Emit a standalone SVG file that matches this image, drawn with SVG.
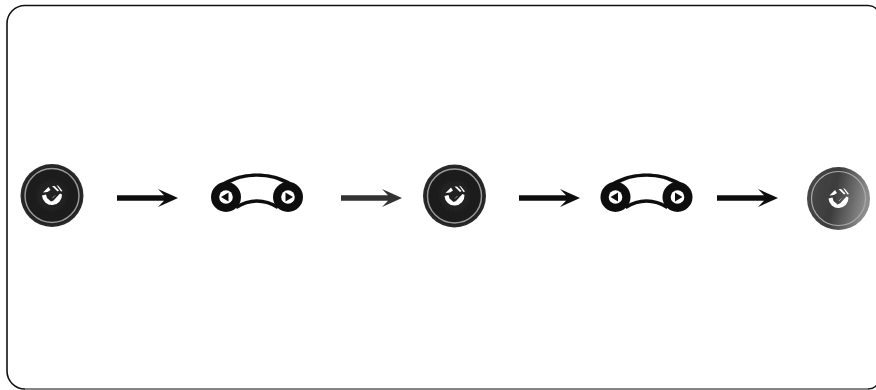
<svg xmlns="http://www.w3.org/2000/svg" width="876" height="390" viewBox="0 0 876 390">
<defs>
<filter id="soft" x="-10%" y="-20%" width="120%" height="140%"><feGaussianBlur stdDeviation="0.45"/></filter>
<radialGradient id="dark" cx="0.5" cy="0.5" r="0.5"><stop offset="0" stop-color="#242424"/><stop offset="0.85" stop-color="#1c1c1c"/><stop offset="1" stop-color="#2e2e2e"/></radialGradient>
<linearGradient id="fade" x1="0" y1="0" x2="1" y2="0.2"><stop offset="0" stop-color="#4a4a4a"/><stop offset="0.5" stop-color="#3c3c3c"/><stop offset="1" stop-color="#8c8c8c"/></linearGradient>
<g id="glyph">
<path d="M-10,0 L-6,-1 L-5,2.500 L-1,6 L1.500,5 L8,-2 L10,-1 A10,10 0 1 1 -10,0 Z" fill="#fff"/>
<path d="M-9,-3 L-3.500,-8.500 L-1.500,-5.500 L-4.500,-3.500 Z" fill="#fff"/>
<path d="M0,-9.500 L2.500,-9.500 L7,-5 L5.500,-4 Z" fill="#fff"/>
<path d="M4.500,-10.500 L6.500,-9.500 L10.500,-4.500 L9,-4 Z" fill="#fff"/>
<path d="M0.500,2.500 L3,0" fill="none" stroke="#999" stroke-width="1"/>
</g>
<g id="btn">
<circle r="31.500" fill="url(#dark)"/>
<circle r="27" fill="none" stroke="#999" stroke-width="1.500"/>
<use href="#glyph"/>
</g>
<g id="pill">
<path d="M-44,-3 C-40,-14 -20,-22.500 0,-22.500 C20,-22.500 40,-14 44,-3 L30,-11 C22,-16.500 12,-19.300 0,-19.300 C-12,-19.300 -22,-16.500 -30,-11 Z" fill="#0c0c0c"/>
<path d="M-21,11.500 C-14,7 -8,5 0,5 C8,5 14,7 21,11.500" fill="none" stroke="#0c0c0c" stroke-width="3.500"/>
<circle cx="-31" cy="1" r="15" fill="#0c0c0c"/>
<circle cx="31" cy="1" r="15" fill="#0c0c0c"/>
<circle cx="-31" cy="1" r="6.800" fill="#fff"/>
<circle cx="31" cy="1" r="6.800" fill="#fff"/>
<path d="M-36,1 L-28.500,-3.500 L-28.500,5.500 Z" fill="#111"/>
<path d="M36,1 L28.500,-3.500 L28.500,5.500 Z" fill="#111"/>
</g>
<path id="arrow" d="M0,-2.700 H47 L41,-9 L61,0 L41,9 L47,2.700 H0 Z"/>
</defs>
<style>.frame{fill:#fff;stroke:#111;stroke-width:1.600}</style>
<rect width="876" height="390" fill="#fff"/>
<path id="frame" class="frame" d="M25,5.500 H868 A12,12 0 0 1 880,17.500 V377 A12,12 0 0 1 868,389 H25 A18,18 0 0 1 7,371 V23.500 A18,18 0 0 1 25,5.500 Z"/>
<path d="M25,389 H868" fill="none" stroke="#999" stroke-width="1.600"/>
<g id="connectors" filter="url(#soft)">
<use href="#arrow" x="117" y="198" fill="#0c0c0c"/>
<use href="#arrow" x="341" y="198" fill="#333"/>
<use href="#arrow" x="519" y="198" fill="#0c0c0c"/>
<use href="#arrow" x="717" y="198" fill="#0c0c0c"/>
</g>
<g id="node-1" filter="url(#soft)"><use href="#btn" x="52" y="195.500"/></g>
<g id="node-2" filter="url(#soft)"><use href="#pill" x="257" y="196"/></g>
<g id="node-3" filter="url(#soft)"><use href="#btn" x="454.500" y="196"/></g>
<g id="node-4" filter="url(#soft)"><use href="#pill" x="646.500" y="196"/></g>
<g id="node-5" filter="url(#soft)">
<circle cx="838.500" cy="198.500" r="31.500" fill="url(#fade)"/>
<circle cx="838.500" cy="198.500" r="27" fill="none" stroke="#aaa" stroke-width="1.200"/>
<use href="#glyph" x="838.500" y="198.500"/>
</g>
</svg>
